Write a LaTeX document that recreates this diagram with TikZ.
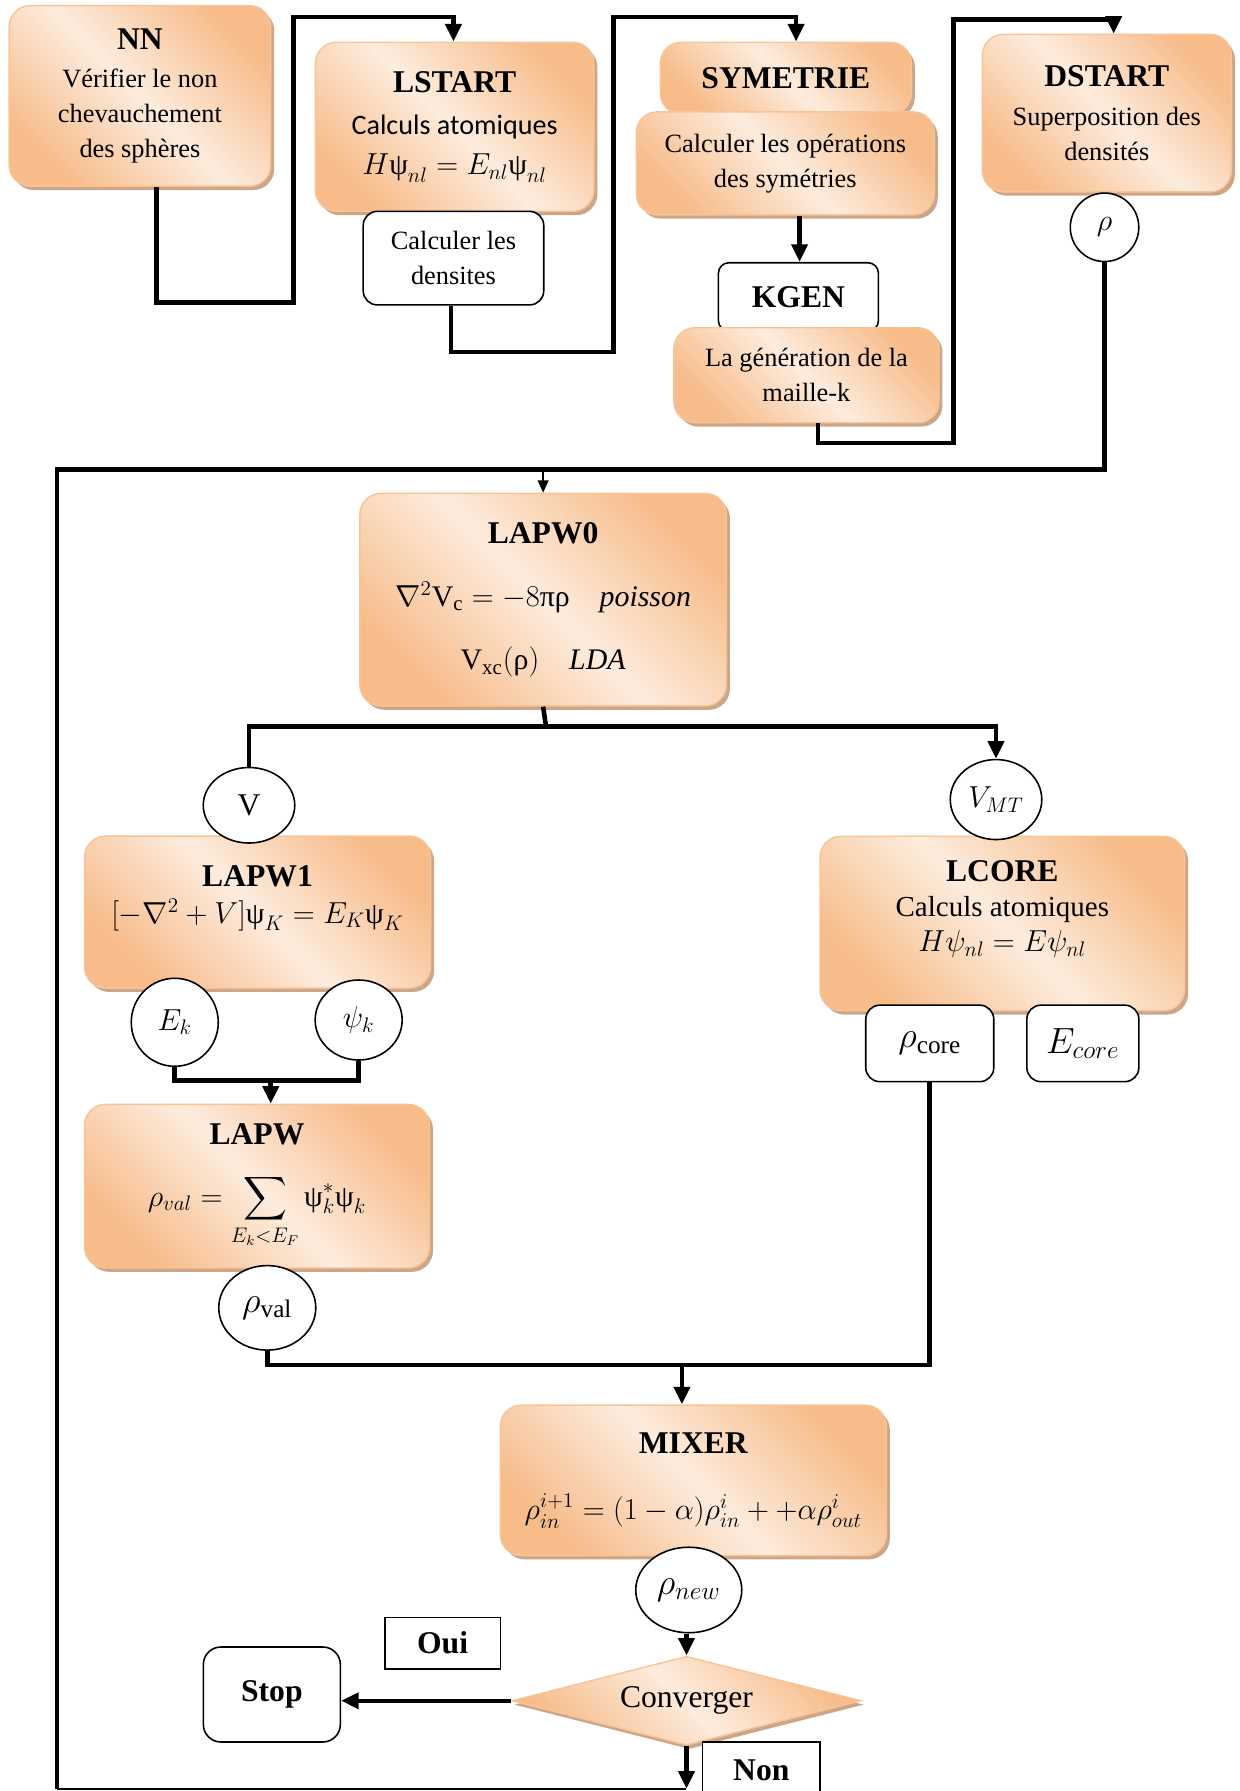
\documentclass[tikz,border=0pt]{standalone}
\usepackage{amsmath}
\usepackage{fontspec}
\setmainfont{Liberation Serif}
\newfontfamily\calibfont{Carlito}
\usetikzlibrary{shapes.geometric,arrows.meta,positioning,calc,shadows}

\definecolor{peachdark}{RGB}{247,188,138}
\definecolor{peachlight}{RGB}{253,236,222}
\definecolor{peachedge}{RGB}{247,196,152}
\definecolor{peachshadow}{RGB}{205,165,135}

\newcommand{\boxhead}[1]{{\fontsize{18}{20}\selectfont\bfseries #1}}
\newcommand{\upsi}{\text{ψ}}

\begin{document}
\begin{tikzpicture}[
  x=0.02284cm, y=-0.02284cm,
  font=\fontsize{15}{20}\selectfont,
  >={Triangle[length=10pt, width=9pt]},
  proc/.style={rectangle, rounded corners=12pt, draw=peachedge, line width=0.8pt,
               top color=peachdark, bottom color=peachdark, middle color=peachlight,
               shading angle=-45, align=center, inner sep=2pt,
               drop shadow={shadow xshift=2pt, shadow yshift=-2.2pt, fill=peachshadow, opacity=1}},
  wbox/.style={rectangle, rounded corners=8pt, draw=black, line width=0.9pt, fill=white,
               align=center, inner sep=2pt},
  tag/.style={rectangle, draw=black, line width=0.9pt, fill=white, inner sep=2pt,
              font=\fontsize{18}{20}\selectfont\bfseries},
  val/.style={ellipse, draw=black, line width=0.9pt, fill=white, inner sep=0pt,
              font=\fontsize{18}{20}\selectfont},
  bigval/.style={font=\fontsize{20.5}{22}\selectfont},
  dec/.style={diamond, aspect=3.9, draw=peachedge, line width=0.8pt, inner sep=0pt,
              top color=peachdark, bottom color=peachdark, middle color=peachlight,
              shading angle=-45, font=\fontsize{18}{20}\selectfont,
              drop shadow={shadow xshift=1.5pt, shadow yshift=-2.2pt, fill=peachshadow, opacity=1}},
  link/.style={->, line width=2.6pt},
  wire/.style={line width=2.6pt},
  feed/.style={-{Triangle[length=7pt, width=6pt]}, line width=1.1pt},
]
\useasboundingbox (0,0) rectangle (1085,1568);

% initialisation
\node[proc, minimum width=5.23cm, minimum height=3.61cm] (nn) at (122.5,84)
  {\boxhead{NN}\\[2pt] Vérifier le non\\ chevauchement\\ des sphères};
\node[proc, minimum width=5.57cm, minimum height=3.38cm] (lstart) at (398,111)
  {\boxhead{LSTART}\\[4pt] {\calibfont\fontsize{16}{20}\selectfont Calculs atomiques}\\[3pt]
   {\fontsize{17}{20}\selectfont $H\upsi_{nl} = E_{nl}\upsi_{nl}$}};
\node[wbox, minimum width=3.61cm, minimum height=1.87cm] (dens) at (397,226) {Calculer les\\ densites};
\node[proc, minimum width=5.02cm, minimum height=1.44cm] (sym) at (688,68.5) {\boxhead{SYMETRIE}};
\node[proc, minimum width=5.96cm, minimum height=2.06cm] (symop) at (687.5,143)
  {Calculer les opérations\\ des symétries};
\node[wbox, rounded corners=6pt, minimum width=3.20cm, minimum height=1.37cm] (kgen) at (699,260) {\boxhead{KGEN}};
\node[proc, minimum width=5.30cm, minimum height=1.90cm] (kmesh) at (706,328.5)
  {La génération de la\\ maille-k};
\node[proc, minimum width=4.98cm, minimum height=3.15cm] (dstart) at (969,99)
  {\boxhead{DSTART}\\[2pt] Superposition des\\ densités};
\node[val, minimum width=1.37cm, minimum height=1.37cm] (rho) at (967,199) {$\rho$};

% cycle SCF
\node[proc, minimum width=7.33cm, minimum height=4.25cm, font=\fontsize{17}{20}\selectfont] (lapw0) at (475.5,525)
  {\boxhead{LAPW0}\\[16pt] $\nabla^2\mathrm{V_c} = -8\text{πρ}\quad \mathit{poisson}$\\[16pt]
   $\mathrm{V_{xc}}(\text{ρ})\quad \mathit{LDA}$};
\node[proc, minimum width=6.92cm, minimum height=3.04cm, font=\fontsize{17}{20}\selectfont] (lapw1) at (225.5,798.5)
  {\boxhead{LAPW1}\\[1pt] $[-\nabla^2 + V]\upsi_K = E_K\upsi_K$\\ \mbox{}};
\node[proc, minimum width=6.90cm, minimum height=3.27cm, font=\fontsize{17}{20}\selectfont] (lapw2) at (225,1038.5)
  {\boxhead{LAPW}\\[15pt] $\displaystyle \rho_{val} = \sum_{E_k<E_F}\upsi^*_k\upsi_k$};
\node[proc, minimum width=7.29cm, minimum height=3.49cm, font=\fontsize{16.5}{20}\selectfont] (lcore) at (877.5,808.5)
  {\boxhead{LCORE}\\ Calculs atomiques\\ $H\psi_{nl} = E\psi_{nl}$\\ \mbox{}};
\node[proc, minimum width=7.72cm, minimum height=3.01cm, font=\fontsize{17}{20}\selectfont] (mixer) at (607,1296)
  {\boxhead{MIXER}\\[18pt] $\rho_{in}^{i+1} = (1-\alpha)\rho_{in}^{i} + +\alpha\rho_{out}^{i}$};

\node[val, minimum width=1.83cm, minimum height=1.51cm] (v) at (218,705) {V};
\node[val, minimum width=1.83cm, minimum height=1.60cm] (vmt) at (872,700) {$V_{MT}$};
\node[val, minimum width=1.74cm, minimum height=1.76cm] (ek) at (153,895) {$E_k$};
\node[val, minimum width=1.74cm, minimum height=1.60cm] (psik) at (314,893) {$\psi_k$};
\node[val, bigval, minimum width=1.94cm, minimum height=1.69cm] (rhoval) at (234,1145) {$\rho_{\mathrm{val}}$};
\node[wbox, bigval, minimum width=2.56cm, minimum height=1.53cm] (rhocore) at (814,913.5) {$\rho_{\mathrm{core}}$};
\node[wbox, bigval, minimum width=2.24cm, minimum height=1.53cm] (ecore) at (948,913.5) {$E_{core}$};
\node[val, bigval, minimum width=2.12cm, minimum height=1.71cm] (rhonew) at (603,1392) {$\rho_{new}$};

% test de convergence
\node[dec, minimum width=6.99cm, minimum height=1.78cm] (conv) at (601,1489) {Converger};
\node[wbox, rounded corners=10pt, font=\fontsize{18}{20}\selectfont\bfseries,
      minimum width=2.74cm, minimum height=1.90cm] (stop) at (238,1483.5) {Stop};
\node[tag, minimum width=2.31cm, minimum height=1.03cm] (oui) at (387.5,1438.5) {Oui};
\node[tag, minimum width=2.35cm, minimum height=1.14cm] (non) at (666.5,1550) {Non};

\coordinate (loopNW) at (50,411);
\coordinate (loopSW) at (50,1566);
\coordinate (split) at (478,636);
\coordinate (kjoin) at (237,946);
\coordinate (vjoin) at (597,1195);

\draw[link] (nn.south -| 137,0) |- (257,265) |- (397,15) -- (lstart.north -| 397,0);
\draw[link] (dens.south -| 395,0) |- (537,308) |- (697,15) -- (sym.north -| 697,0);
\draw[link] (symop.south -| 700,0) -- (kgen.north -| 700,0);
\draw[link] (kmesh.south -| 716,0) |- (835,388) |- (975,17) -- (dstart.north -| 975,0);

\draw[wire] (rho.south) |- (loopNW) -- (loopSW);
\draw[line width=1.2pt] (loopSW) -- (conv.south |- loopSW);
\draw[feed] (lapw0.north |- loopNW) -- (lapw0.north);

\draw[wire] (lapw0.south) -- (split);
\draw[wire] (v.north) |- (split);
\draw[link] (split) -| (vmt.north);

\draw[wire] (ek.south) |- (psik.south |- kjoin) -- (psik.south);
\draw[link] (kjoin) -- (lapw2.north -| kjoin);

\draw[wire] (rhoval.south) |- (rhocore.south |- vjoin) -- (rhocore.south);
\draw[link] (vjoin) -- (mixer.north -| vjoin);

\draw[link] (conv.north |- rhonew.south) -- (conv.north);
\draw[link] (conv.west) -- (stop.east |- conv.west);
\draw[link] (conv.south) -- (conv.south |- loopSW);

\end{tikzpicture}
\end{document}
